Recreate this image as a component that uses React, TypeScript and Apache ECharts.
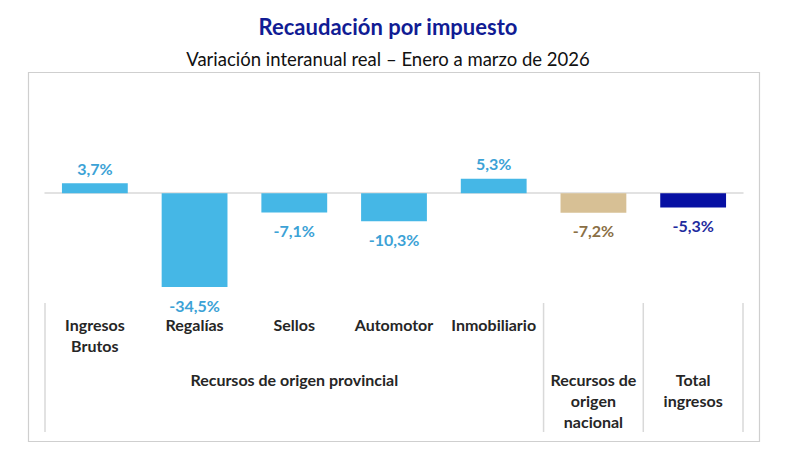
import React, { useEffect, useRef } from "react";
import * as echarts from "echarts";

// Real year-on-year change by tax, January–March 2026
const categories = [
  "Ingresos\nBrutos",
  "Regalías",
  "Sellos",
  "Automotor",
  "Inmobiliario",
  "",
  "",
];
const variation = [3.7, -34.5, -7.1, -10.3, 5.3, -7.2, -5.3];
// which group each category belongs to (index into groups)
const categoryGroup = [0, 0, 0, 0, 0, 1, 2];
const groups = [
  { label: "Recursos de origen provincial", start: 0, end: 4 },
  { label: "Recursos de\norigen\nnacional", start: 5, end: 5 },
  { label: "Total\ningresos", start: 6, end: 6 },
];

const Y_MIN = -40;
const Y_MAX = 10;

const FONT = "Lato, 'Open Sans', sans-serif";
const barColors = ["#45B7E6", "#D7C095", "#0710A3"];
const labelColors = ["#3CA2D6", "#8A6F45", "#1F2C9E"];

const fmt = (v: number) => v.toFixed(1).replace(".", ",") + "%";

export default function App() {
  const ref = useRef<HTMLDivElement>(null);

  useEffect(() => {
    if (!ref.current) return;
    const chart = echarts.init(ref.current, null, { renderer: "svg" });

    const barData = variation.map((v, i) => {
      const g = categoryGroup[i];
      return {
        value: v,
        itemStyle: { color: barColors[g] },
        label: {
          show: true,
          position: v >= 0 ? "top" : "bottom",
          distance: v >= 0 ? 7 : 10,
          formatter: () => fmt(v),
          color: labelColors[g],
          fontFamily: FONT,
          fontWeight: "bold",
          fontSize: 16,
        },
      };
    });

    chart.setOption({
      animation: false,
      backgroundColor: "#ffffff",
      title: [
        {
          text: "Recaudación por impuesto",
          left: 383,
          top: 10,
          textAlign: "center",
          textStyle: {
            fontFamily: FONT,
            fontWeight: "bold",
            fontSize: 22,
            color: "#111C94",
          },
        },
        {
          text: "Variación interanual real – Enero a marzo de 2026",
          left: 383,
          top: 44,
          textAlign: "center",
          textStyle: {
            fontFamily: FONT,
            fontWeight: "normal",
            fontSize: 18.5,
            color: "#111111",
          },
        },
      ],
      graphic: [
        {
          type: "rect",
          shape: { x: 28.5, y: 72.5, width: 731, height: 369 },
          style: { fill: "none", stroke: "#CFCFCF", lineWidth: 1.2 },
          silent: true,
        },
      ],
      grid: { left: 45, right: 47, top: 166, bottom: 168, containLabel: false },
      xAxis: [
        {
          type: "category",
          data: categories,
          axisLine: {
            show: true,
            onZero: true,
            lineStyle: { color: "#D9D9D9", width: 1.5 },
          },
          axisTick: { show: false },
          axisLabel: { show: false },
          splitLine: { show: false },
        },
        {
          type: "category",
          data: categories,
          position: "bottom",
          axisLine: { show: false },
          axisTick: { show: false },
          axisLabel: {
            show: true,
            interval: 0,
            margin: 12,
            fontFamily: FONT,
            fontWeight: "bold",
            fontSize: 16,
            lineHeight: 21,
            color: "#262626",
          },
        },
      ],
      yAxis: {
        type: "value",
        min: Y_MIN,
        max: Y_MAX,
        interval: 10,
        show: false,
        splitLine: { show: false },
      },
      series: [
        {
          type: "bar",
          xAxisIndex: 0,
          data: barData,
          barCategoryGap: "34%",
        },
        {
          type: "custom",
          xAxisIndex: 0,
          silent: true,
          clip: false,
          data: groups.map((g) => [g.start, g.end]),
          renderItem: (params: any, api: any) => {
            const g = groups[params.dataIndex];
            const band = api.size([1, 0])[0];
            const left = api.coord([g.start, 0])[0] - band / 2;
            const right = api.coord([g.end, 0])[0] + band / 2;
            const base = api.coord([0, Y_MIN])[1];
            const lineStyle = { stroke: "#D9D9D9", lineWidth: 1.5 };
            const children: any[] = [
              {
                type: "line",
                shape: { x1: right, y1: base + 1, x2: right, y2: base + 130 },
                style: lineStyle,
              },
              {
                type: "text",
                style: {
                  text: g.label,
                  x: (left + right) / 2,
                  y: base + 67,
                  align: "center",
                  verticalAlign: "top",
                  font: `bold 16px ${FONT}`,
                  lineHeight: 21,
                  fill: "#262626",
                },
              },
            ];
            if (params.dataIndex === 0) {
              children.push({
                type: "line",
                shape: { x1: left, y1: base + 1, x2: left, y2: base + 130 },
                style: lineStyle,
              });
            }
            return { type: "group", children };
          },
        },
      ],
    });

    return () => chart.dispose();
  }, []);

  return (
    <div
      ref={ref}
      style={{ position: "absolute", left: 0, top: 0, width: 790, height: 470 }}
    />
  );
}
